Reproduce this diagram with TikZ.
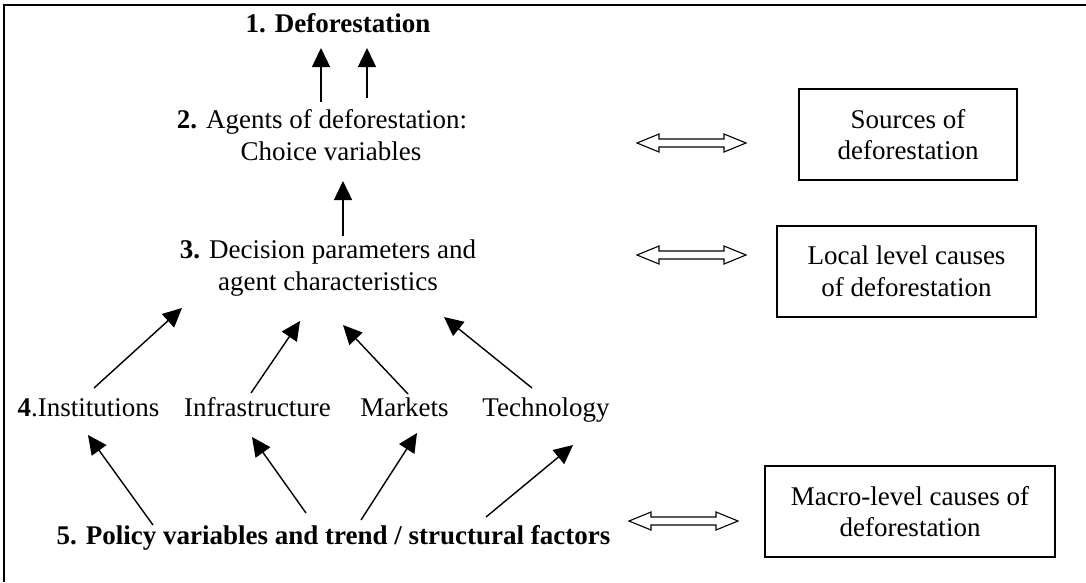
\documentclass[tikz,border=0pt]{standalone}
\usepackage{fontspec}
\setmainfont{Liberation Serif}
\usetikzlibrary{arrows.meta}
\tikzset{
  lbl/.style={inner sep=0pt, align=center, font=\fontsize{27}{32}\selectfont},
  causebox/.style={draw, line width=1.2pt, align=center, minimum height=91pt, font=\fontsize{27}{31.5}\selectfont},
  causearrow/.style={line width=1.4pt, -{Triangle[length=19pt,width=18pt]}},
  hollowarrow/.pic={
    \draw[line width=1.1pt, line join=miter] (-54.5,0) -- (-32.5,-9) -- (-32.5,-4) -- (32.5,-4)
      -- (32.5,-9) -- (54.5,0) -- (32.5,9) -- (32.5,4) -- (-32.5,4) -- (-32.5,9) -- cycle;
  }
}

\begin{document}
\begin{tikzpicture}[x=1pt,y=-1pt]
    \useasboundingbox (0,0) rectangle (1086,582);
    % frame
    \draw[line width=2.6pt] (4,582) -- (4,5) -- (1086,5);
    % levels
    \node[lbl, anchor=base] (defor) at (338,32) {\textbf{1. Deforestation}};
    \node[lbl] (agents) at (331,135.5) {\textbf{2.} Agents of deforestation:\hspace*{18pt}\\Choice variables};
    \node[lbl] (params) at (328,268) {\textbf{3.} Decision parameters and\\agent characteristics};
    \node[lbl, anchor=base] (inst) at (88.5,416) {\textbf{4}.Institutions};
    \node[lbl, anchor=base] (infra) at (257.5,416) {Infrastructure};
    \node[lbl, anchor=base] (markets) at (404.5,416) {Markets};
    \node[lbl, anchor=base] (tech) at (546,416) {Technology};
    \node[lbl, anchor=base] (policy) at (333.5,544) {\textbf{5. Policy variables and trend / structural factors}};
    % causes
    \node[causebox, minimum width=218pt] (sources) at (908,134.5) {Sources of\\deforestation};
    \node[causebox, minimum width=259pt] (local) at (906.5,271.5) {Local level causes\\of deforestation};
    \node[causebox, minimum width=290pt] (macro) at (910,511.5) {Macro-level causes of\\deforestation};
    \pic at (691.5,143) {hollowarrow};
    \pic at (691.5,255) {hollowarrow};
    \pic at (683.5,521) {hollowarrow};
    % arrows
    \draw[causearrow] ([shift={(-10,-33.5)}]agents.center) -- ([shift={(-17,16)}]defor.base);
    \draw[causearrow] ([shift={(36,-37.5)}]agents.center) -- ([shift={(29,16)}]defor.base);
    \draw[causearrow] ([shift={(15,-32)}]params.center) -- ([shift={(12,45.5)}]agents.center);
    \draw[causearrow] ([shift={(5.5,-28)}]inst.base) -- ([shift={(-146,40)}]params.center);
    \draw[causearrow] ([shift={(-6.5,-23)}]infra.base) -- ([shift={(-28,53)}]params.center);
    \draw[causearrow] ([shift={(3.5,-22)}]markets.base) -- ([shift={(15,57)}]params.center);
    \draw[causearrow] ([shift={(-14,-28)}]tech.base) -- ([shift={(116,49)}]params.center);
    \draw[causearrow] ([shift={(-180.5,-19)}]policy.base) -- ([shift={(-0.5,19)}]inst.base);
    \draw[causearrow] ([shift={(-27.5,-31)}]policy.base) -- ([shift={(-5.5,21)}]infra.base);
    \draw[causearrow] ([shift={(27.5,-24)}]policy.base) -- ([shift={(12.5,17)}]markets.base);
    \draw[causearrow] ([shift={(152.5,-27)}]policy.base) -- ([shift={(27,29)}]tech.base);
\end{tikzpicture}
\end{document}
